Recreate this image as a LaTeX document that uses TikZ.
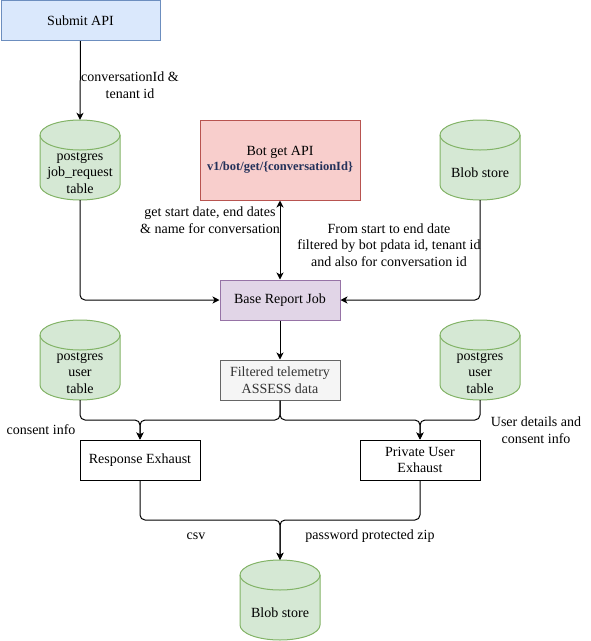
\documentclass[tikz,border=0pt]{standalone}
\usepackage{fontspec}
\setmainfont{Liberation Serif}
\usetikzlibrary{arrows.meta,calc}
\definecolor{bluefill}{HTML}{DAE8FC}
\definecolor{blueline}{HTML}{6C8EBF}
\definecolor{redfill}{HTML}{F8CECC}
\definecolor{redline}{HTML}{B85450}
\definecolor{greenfill}{HTML}{D5E8D4}
\definecolor{greenline}{HTML}{82B366}
\definecolor{purplefill}{HTML}{E1D5E7}
\definecolor{purpleline}{HTML}{9673A6}
\definecolor{grayfill}{HTML}{F5F5F5}
\definecolor{grayline}{HTML}{666666}
\definecolor{graytext}{HTML}{333333}
\definecolor{navytext}{HTML}{23315A}
\newcommand\dbcyl[4]{%
  \filldraw[fill=greenfill,draw=greenline,line width=1pt]
    ({#2-40},{-#3+25}) -- ({#2-40},{-#3-25})
    arc[start angle=180,end angle=360,x radius=40,y radius=15]
    -- ({#2+40},{-#3+25})
    arc[start angle=0,end angle=180,x radius=40,y radius=15] -- cycle;
  \draw[draw=greenline,line width=1pt] ({#2-40},{-#3+25})
    arc[start angle=180,end angle=360,x radius=40,y radius=15];
  \node[minimum width=80pt,minimum height=80pt,inner sep=0pt] (#1) at (#2,-#3) {};
  \node[lbl] (#1txt) at (#2,{-#3-13}) {#4};
}
\begin{document}
\begin{tikzpicture}[x=1pt,y=1pt,
  lbl/.style={align=center,inner sep=0pt,font=\fontsize{14}{16.5}\selectfont},
  boxnode/.style={lbl,draw,line width=1pt,minimum width=120pt,minimum height=40pt},
  conn/.style={line width=1pt,-{Stealth[length=7pt,width=7pt,inset=2pt]}},
  bothconn/.style={line width=1pt,{Stealth[length=7pt,width=7pt,inset=2pt]}-{Stealth[length=7pt,width=7pt,inset=2pt]}}
]
\useasboundingbox (0,0) rectangle (591,-641);

% boxes
\node[boxnode,fill=bluefill,draw=blueline,minimum width=159pt] (submit) at (80.5,-20.5) {Submit API};
\node[boxnode,fill=redfill,draw=redline,minimum width=160pt,minimum height=80pt] (bot) at (280,-160)
  {Bot get API\\[-1pt]{\fontsize{12.5}{15}\selectfont\bfseries\color{navytext}v1/bot/get/\{conversationId\}}};
\node[boxnode,fill=purplefill,draw=purpleline] (base) at (280,-300) {Base Report Job};
\node[boxnode,fill=grayfill,draw=grayline,text=graytext] (filt) at (280,-380) {Filtered telemetry\\ASSESS data};
\node[boxnode] (resp) at (140,-460) {Response Exhaust};
\node[boxnode] (priv) at (420,-460) {Private User\\Exhaust};

% cylinders
\dbcyl{jobreq}{80}{160}{postgres\\job\_request\\table}
\dbcyl{blobA}{480}{160}{Blob store}
\dbcyl{userA}{80}{360}{postgres\\user\\table}
\dbcyl{userB}{480}{360}{postgres\\user\\table}
\dbcyl{blobB}{280}{600}{Blob store}

% merge points
\coordinate (mresp) at (140,-420);
\coordinate (mpriv) at (420,-420);
\coordinate (mblob) at (280,-520);

% connectors
\draw[conn] (submit.south) -- (jobreq.north);
\draw[bothconn] (bot.south) -- (base.north);
\draw[conn,rounded corners=5pt] (jobreq.south) |- (base.west);
\draw[conn,rounded corners=5pt] (blobA.south) |- (base.east);
\draw[conn] (base.south) -- (filt.north);
\draw[conn,rounded corners=5pt] (userA.south) |- (mresp) -- (resp.north);
\draw[conn,rounded corners=5pt] (filt.south) |- (mresp) -- (resp.north);
\draw[conn,rounded corners=5pt] (filt.south) |- (mpriv) -- (priv.north);
\draw[conn,rounded corners=5pt] (userB.south) |- (mpriv) -- (priv.north);
\draw[conn,rounded corners=5pt] (resp.south) |- (mblob) -- (blobB.north);
\draw[conn,rounded corners=5pt] (priv.south) |- (mblob) -- (blobB.north);

% labels
\node[lbl] (l1) at (130,-85) {conversationId \&\\tenant id};
\node[lbl] (l2) at (210,-220) {get start date, end dates\\\& name for conversation};
\node[lbl] (l3) at (389,-245) {From start to end date\\filtered by bot pdata id, tenant id\\and also for conversation id};
\node[lbl] (l4) at (41,-430) {consent info};
\node[lbl] (l5) at (536,-430) {User details and\\consent info};
\node[lbl] (l6) at (196,-536) {csv};
\node[lbl] (l7) at (370,-536) {password protected zip};
\end{tikzpicture}
\end{document}
